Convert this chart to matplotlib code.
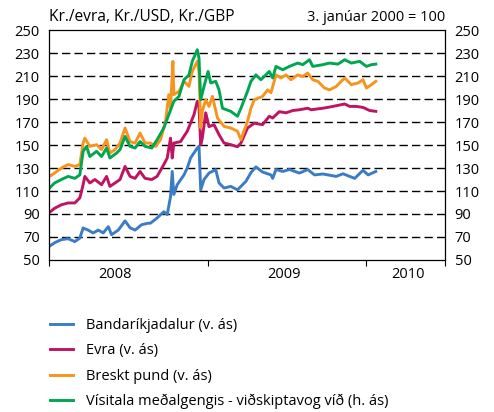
import matplotlib
matplotlib.use("Agg")
import matplotlib.pyplot as plt
from matplotlib.lines import Line2D

# months counted from 1 January 2008
usd_months = [0.0, 0.39, 0.90, 1.41, 1.92, 2.30, 2.55, 2.93, 3.31, 3.70, 4.08, 4.46, 4.71,
              5.22, 5.73, 6.11, 6.49, 6.99, 7.50, 7.66, 8.16, 8.67, 8.93, 9.18, 9.31, 9.43,
              9.69, 10.20, 10.45, 10.70, 11.21, 11.34, 11.47, 11.72, 12.10, 12.61, 12.86,
              13.24, 13.75, 14.26, 14.52, 14.90, 15.28, 15.66, 16.16, 16.80, 16.93, 17.18,
              17.69, 18.20, 18.96, 19.59, 20.10, 20.74, 21.75, 22.26, 23.15, 23.78, 24.17, 24.75]
usd = [62, 65, 67.7, 68.5, 66, 69, 77.8, 76, 73.5, 76, 73.5, 79, 72,
       76, 84, 78, 76, 80.7, 82, 82, 86.5, 92, 89.5, 105, 127, 107,
       115.5, 124, 130, 138.7, 147.4, 149, 111, 120, 125.6, 128.6, 117,
       112.6, 114, 111, 114, 118.4, 126, 131, 126.5, 124, 121, 128.7,
       127, 128.7, 125.6, 128.7, 124, 124.8, 122.7, 125, 121, 128, 124, 127]

eur_months = [0.0, 0.39, 0.90, 1.41, 1.92, 2.30, 2.55, 2.68, 3.06, 3.44, 3.95, 4.33, 4.58,
              4.97, 5.35, 5.73, 6.11, 6.49, 6.87, 7.25, 7.76, 8.16, 8.67, 8.93, 9.18, 9.31,
              9.43, 9.94, 10.45, 10.96, 11.21, 11.34, 11.47, 11.59, 11.85, 12.10, 12.48,
              12.86, 13.24, 13.75, 14.26, 14.52, 15.02, 15.53, 16.16, 16.67, 16.93, 17.43,
              17.94, 18.45, 18.96, 19.59, 19.85, 20.74, 21.50, 22.39, 22.77, 23.28, 23.78,
              24.29, 24.75]
eur = [91.4, 95, 98, 99.6, 99.6, 104, 115.5, 122.7, 117, 120, 115.5, 122.7, 114,
       117, 120, 131.4, 122.7, 121, 127, 121, 120, 122.7, 133, 138.7, 156, 138.7,
       151.7, 153, 162, 176.4, 188, 183.6, 150.3, 156, 178, 166, 167.7,
       159, 151.7, 150.3, 148.5, 151.7, 164.8, 169, 167.7, 175, 173.5, 179,
       178, 180, 180.7, 182, 180.7, 182, 183.6, 185.7, 183.6, 183.6, 182.7,
       180, 179.3]

gbp_months = [0.0, 0.39, 0.90, 1.41, 1.92, 2.30, 2.55, 2.68, 3.06, 3.57, 3.95, 4.33, 4.58,
              4.97, 5.35, 5.73, 6.11, 6.49, 6.87, 7.25, 7.66, 8.04, 8.42, 8.80, 9.05, 9.18,
              9.36, 9.43, 9.82, 10.20, 10.58, 10.83, 11.21, 11.34, 11.47, 11.59, 11.85,
              12.10, 12.36, 12.74, 13.24, 13.75, 14.26, 14.52, 15.02, 15.28, 15.53, 16.16,
              16.55, 16.80, 17.18, 17.56, 17.94, 18.32, 18.83, 19.21, 19.59, 19.97, 20.36,
              20.86, 21.24, 21.75, 22.39, 22.90, 23.40, 23.78, 24.04, 24.42, 24.75]
gbp = [122.7, 125.6, 130, 133, 131.4, 133, 151.7, 156, 148.8, 150.3, 146, 154.6, 143,
       146, 151.7, 164.8, 153, 151.7, 160.4, 151.7, 151.7, 148.8, 154.6, 170.6, 193.8, 182,
       222.8, 193.8, 196.7, 205.4, 201, 214, 222.8, 214, 164.8, 179.3, 189.4,
       183.6, 192.3, 173.5, 166.2, 164.8, 162, 154.6, 170.6, 182, 189.4, 192.3,
       198, 195.5, 211, 208.3, 211, 206.8, 211, 209.7, 212.6, 206.8, 205.4,
       199.6, 198, 201, 208.3, 202.5, 204, 206.8, 199.6, 202.5, 205.4]

idx_months = [0.0, 0.39, 0.90, 1.41, 1.92, 2.30, 2.55, 2.81, 3.06, 3.57, 3.95, 4.33, 4.58,
              5.09, 5.35, 5.73, 6.11, 6.49, 6.87, 7.25, 7.76, 8.16, 8.67, 9.05, 9.43, 9.82,
              10.20, 10.58, 10.83, 11.21, 11.34, 11.47, 11.72, 12.03, 12.23, 12.61, 12.86,
              13.12, 13.75, 14.26, 14.52, 15.02, 15.28, 15.66, 16.04, 16.67, 16.93, 17.18,
              17.69, 18.20, 18.83, 19.21, 19.72, 19.97, 20.74, 21.24, 21.88, 22.39, 22.90,
              23.53, 24.04, 24.42, 24.75]
idx = [112.6, 117, 120, 122.7, 121, 124, 144.5, 148.8, 140, 144.5, 140, 147.4, 138.7,
       143, 146, 157.5, 148.8, 147.4, 153, 148.8, 147.4, 154.6, 164.8, 176.4, 188, 192.3,
       206.8, 211, 222.8, 232.9, 225.6, 189.4, 201, 214, 204, 205.4, 198,
       182, 179.3, 175, 182, 196.7, 205.4, 211, 206.8, 214, 208.3, 218.4,
       215.5, 218.4, 221.3, 219.9, 224.2, 218.4, 219.9, 221.3, 220.4, 224.2, 221.3,
       222.8, 218.4, 219.9, 220.4]

labels = ["Bandaríkjadalur (v. ás)", "Evra (v. ás)", "Breskt pund (v. ás)",
          "Vísitala meðalgengis - viðskiptavog víð (h. ás)"]
colors = ["#3a7dc4", "#c01463", "#f7941d", "#00a650"]
year_labels = ["2008", "2009", "2010"]
yticks = list(range(50, 251, 20))

plt.rcParams["font.family"] = ["Open Sans", "DejaVu Sans"]

fig = plt.figure(figsize=(4.94, 4.12), dpi=100)
ax = fig.add_axes([0.1002, 0.369, 0.8006, 0.558])

series = [(usd_months, usd), (eur_months, eur), (gbp_months, gbp), (idx_months, idx)]
for (m, v), c in zip(series, colors):
    ax.plot(m, v, color=c, lw=2.1, solid_joinstyle="round")

ax.set_xlim(0, 30)
ax.set_ylim(50, 250)
ax.set_yticks(yticks)
ax.tick_params(axis="y", length=0, labelsize=10.5, pad=7, labelright=True, right=False)
for yv in yticks[1:-1]:
    ax.axhline(yv, color="black", lw=1, ls=(0, (6, 3)), zorder=0)

ax.set_xticks([0, 12, 24, 30])
ax.set_xticklabels([])
ax.tick_params(axis="x", which="major", direction="out", length=4.5, width=0.8)
ax.set_xticks([5.0, 17.8, 27.2], minor=True)
ax.set_xticklabels(year_labels, minor=True)
ax.tick_params(axis="x", which="minor", length=0, labelsize=10.5, pad=5)

for s in ax.spines.values():
    s.set_linewidth(0.9)

fig.text(0.1, 0.958, "Kr./evra, Kr./USD, Kr./GBP", fontsize=11.2, ha="left", va="center")
fig.text(0.902, 0.958, "3. janúar 2000 = 100", fontsize=10.5, ha="right", va="center")

handles = [Line2D([], [], color=c, lw=2.1) for c in colors]
fig.legend(handles, labels, loc="upper left", bbox_to_anchor=(0.101, 0.229), frameon=False,
           fontsize=10.5, handlelength=1.6, handletextpad=0.9, labelspacing=0.72,
           borderpad=0, borderaxespad=0)

fig.savefig("out.png", dpi=100)
